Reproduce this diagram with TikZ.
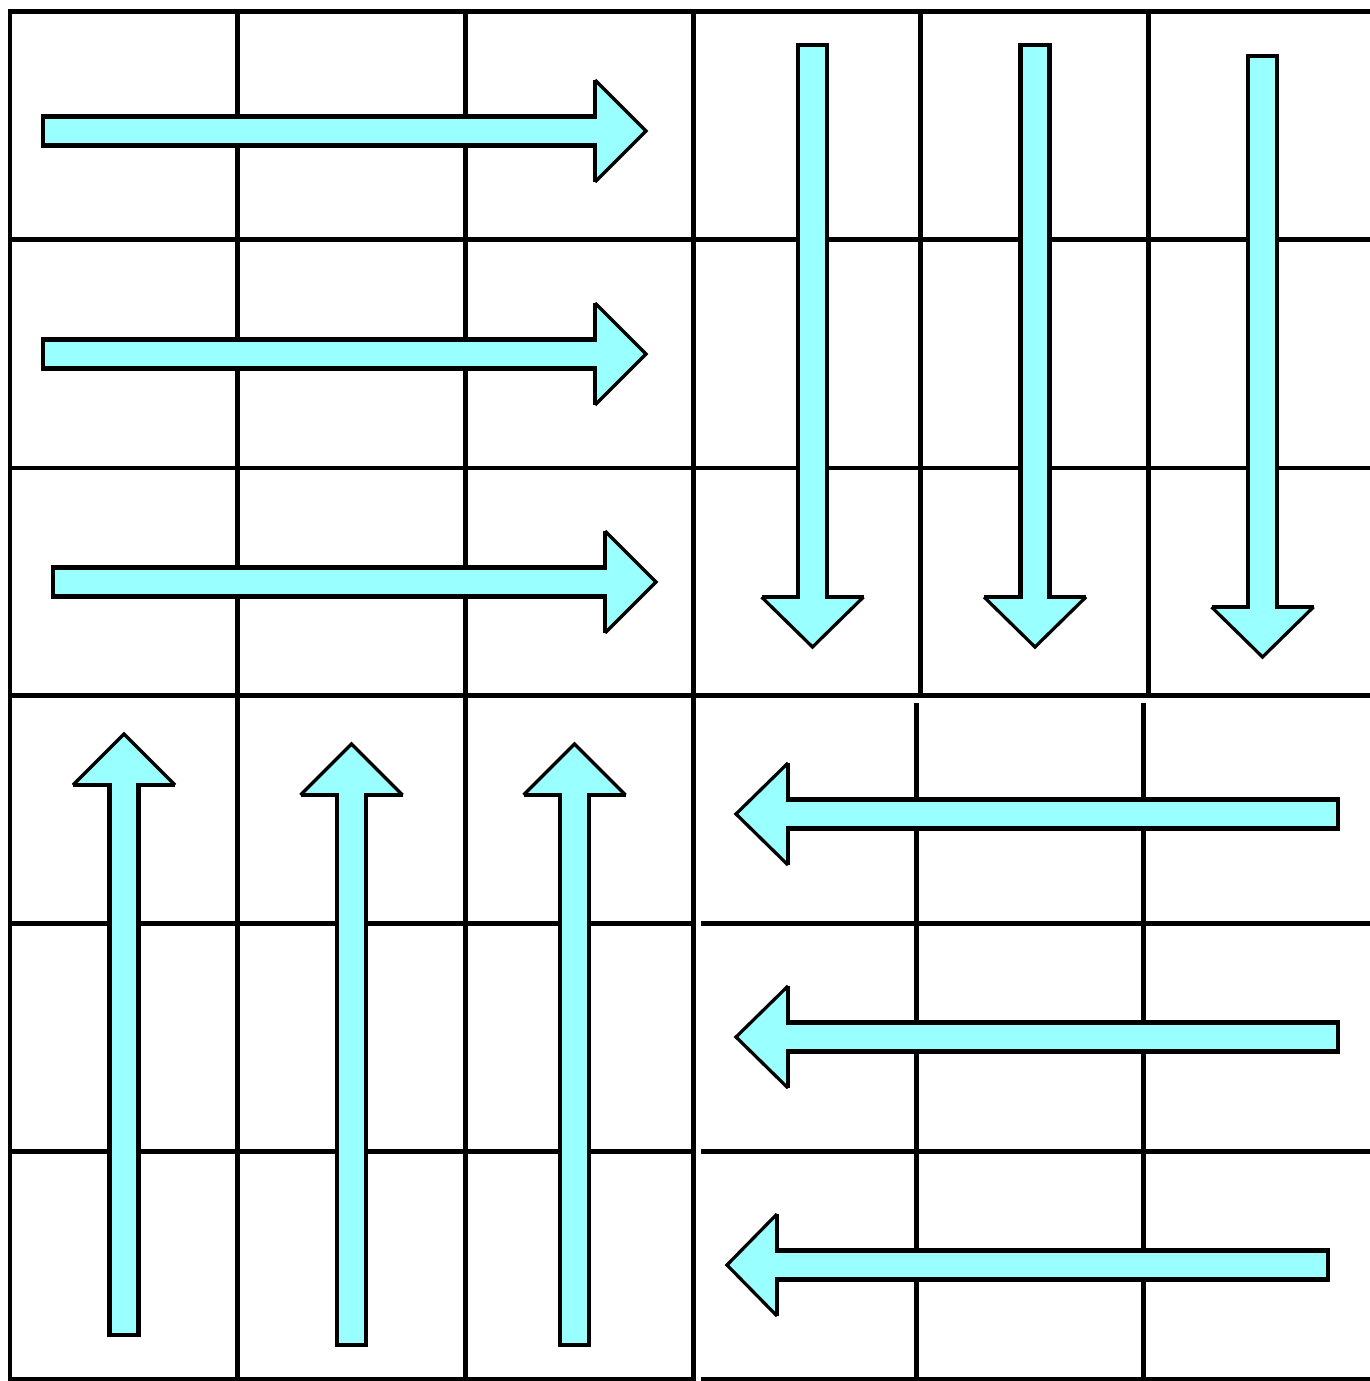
\documentclass[tikz,border=0pt]{standalone}
\definecolor{arrowcyan}{RGB}{153,255,255}
\tikzset{
  gridline/.style={line width=0.1cm, line cap=rect, black},
  arrowedge/.style={line width=0.09cm, line join=miter, black},
  arrowtip/.style={line width=0.065cm, line join=miter, black},
}
% horizontal block arrow: tail x, head-back x, tip x, centre y
\newcommand\harrowshape[4]{%
  \fill[arrowcyan] (#1,#4-14.5) -- (#2,#4-14.5) -- (#2,#4-51) -- (#3,#4) -- (#2,#4+51) -- (#2,#4+14.5) -- (#1,#4+14.5) -- cycle;
  \draw[arrowedge] (#2,#4-51) -- (#2,#4-14.5) -- (#1,#4-14.5) -- (#1,#4+14.5) -- (#2,#4+14.5) -- (#2,#4+51);
  \draw[arrowtip] (#2,#4-51) -- (#3,#4) -- (#2,#4+51);}
% vertical block arrow: tail y, head-back y, tip y, centre x
\newcommand\varrowshape[4]{%
  \fill[arrowcyan] (#4-14.5,#1) -- (#4-14.5,#2) -- (#4-51,#2) -- (#4,#3) -- (#4+51,#2) -- (#4+14.5,#2) -- (#4+14.5,#1) -- cycle;
  \draw[arrowedge] (#4-51,#2) -- (#4-14.5,#2) -- (#4-14.5,#1) -- (#4+14.5,#1) -- (#4+14.5,#2) -- (#4+51,#2);
  \draw[arrowtip] (#4-51,#2) -- (#4,#3) -- (#4+51,#2);}
\begin{document}
\begin{tikzpicture}[x=0.02cm,y=-0.02cm]
\useasboundingbox (0,0) rectangle (1369,1381);
\fill[white] (0,0) rectangle (1369,1381);
% left half grid
\foreach \x in {10,237,465,693} \draw[gridline] (\x,12) -- (\x,1379);
\foreach \y in {12,240,468,695,923,1151,1379} \draw[gridline] (10,\y) -- (693,\y);
% top-right grid
\foreach \y in {12,240,468,695} \draw[gridline] (693,\y) -- (1372,\y);
\foreach \x in {920,1148} \draw[gridline] (\x,12) -- (\x,695);
% bottom-right grid
\foreach \x in {916,1143} \draw[gridline] (\x,705.5) -- (\x,1379);
\foreach \y in {923,1151,1379} \draw[gridline] (703.5,\y) -- (1372,\y);
% right arrows
\harrowshape{43}{595}{646}{131}
\harrowshape{43}{595}{646}{354}
\harrowshape{53}{605}{656}{582}
% down arrows
\varrowshape{45}{597}{647}{812.5}
\varrowshape{45}{597}{647}{1035}
\varrowshape{56}{607}{657}{1262.5}
% up arrows
\varrowshape{1335}{785}{734}{124}
\varrowshape{1345}{795}{744}{351.5}
\varrowshape{1345}{795}{744}{574.5}
% left arrows
\harrowshape{1338}{788}{736}{814}
\harrowshape{1338}{788}{736}{1037}
\harrowshape{1328}{777}{727}{1265}
\end{tikzpicture}
\end{document}
